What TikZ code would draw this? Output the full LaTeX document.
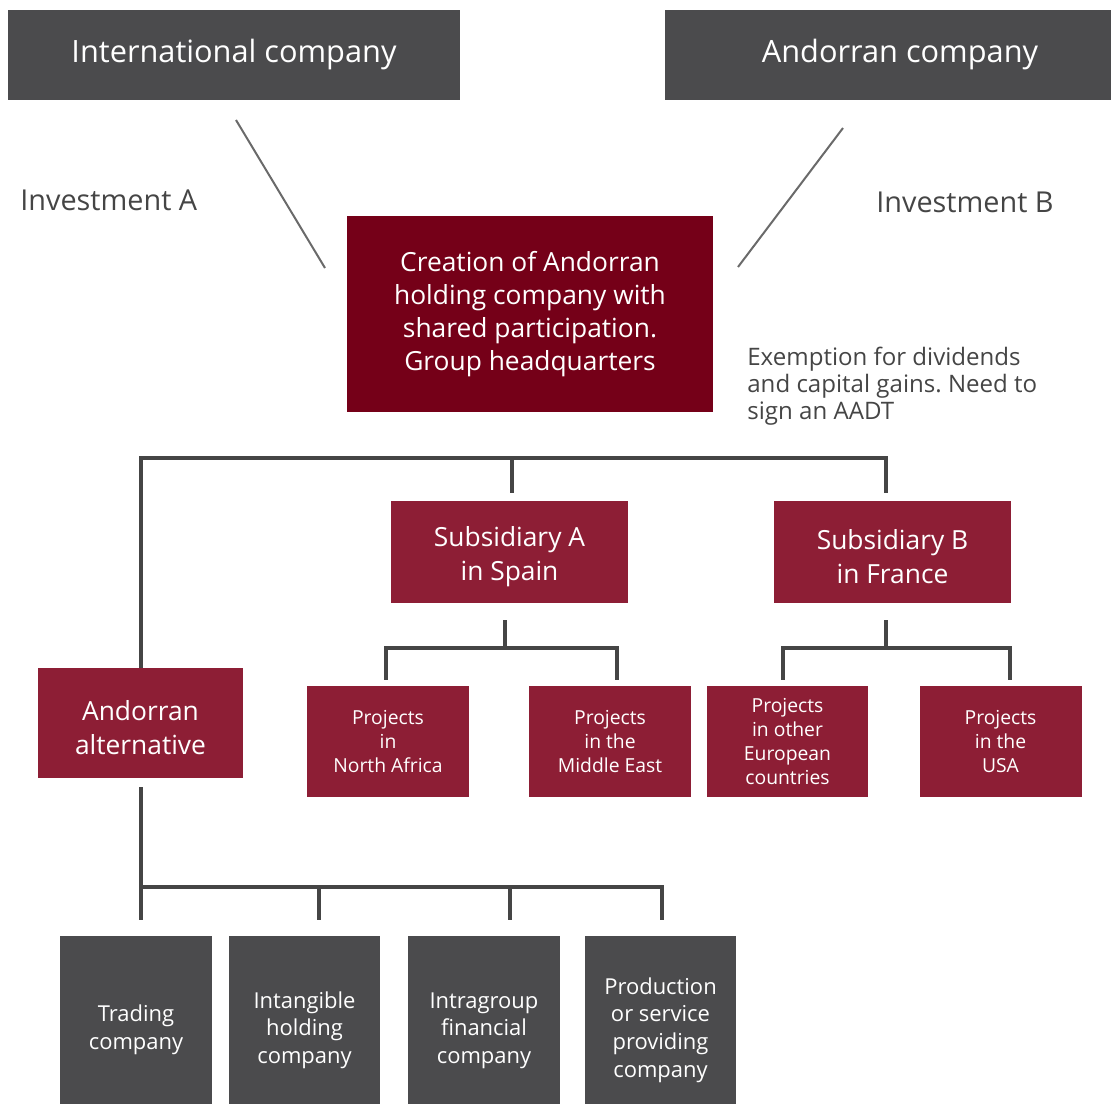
\documentclass[tikz,border=0pt]{standalone}
\usepackage{fontspec}
\setmainfont{Open Sans}
\frenchspacing
\usetikzlibrary{calc}

\definecolor{slate}{HTML}{4B4B4D}
\definecolor{oxblood}{HTML}{750018}
\definecolor{claret}{HTML}{8D1E35}
\definecolor{ink}{HTML}{454545}
\definecolor{faint}{HTML}{6A6A6A}

\newcommand{\lowbranch}{\rule{0pt}{16.5pt}}
\newcommand{\lowkind}{\rule{0pt}{20.8pt}}

\begin{document}
\begin{tikzpicture}[
		x = 0.02cm,
		y = -0.02cm,
		box/.style = {
			rectangle,
			inner sep = 0pt,
			align = center,
			text = white
		},
		parent/.style = {box, fill = slate, minimum height = 1.8cm, font = \fontsize{17.5}{21}\selectfont},
		head/.style = {box, fill = oxblood, minimum width = 7.32cm, minimum height = 3.92cm, font = \fontsize{15}{18.7}\selectfont},
		branch/.style = {box, fill = claret, minimum width = 4.74cm, minimum height = 2.04cm, font = \fontsize{15}{19.3}\selectfont},
		project/.style = {box, fill = claret, minimum width = 3.24cm, minimum height = 2.22cm, font = \fontsize{11}{13.6}\selectfont},
		kind/.style = {box, fill = slate, minimum width = 3.04cm, minimum height = 3.36cm, font = \fontsize{12.5}{15.7}\selectfont},
		note/.style = {inner sep = 0pt, text = ink, font = \fontsize{16.4}{20}\selectfont},
		wire/.style = {draw = ink, line width = 0.08cm},
		ray/.style = {draw = faint, line width = 0.04cm}
	]
	\useasboundingbox (0,0) rectangle (1111,1104);

	\node[parent, minimum width = 9.04cm] (intl)    at (234,55) {International company};
	\node[parent, minimum width = 9.4cm]  (andorra) at (900,55) {Andorran company};
	\node[head] (holding) at (530,314) {Creation of Andorran\\holding company with\\shared participation.\\Group headquarters};

	\node[note, anchor = base west] (invA) at (20,211) {Investment A};
	\node[note, anchor = base west] (invB) at (876,213) {Investment B};
	\node[note, anchor = north west, align = left, font = \fontsize{13.7}{15.3}\selectfont] (exempt) at (747,347)
		{Exemption for dividends\\and capital gains. Need to\\sign an AADT};

	\coordinate (tailA) at (236,120);
	\coordinate (tipA)  at (325,268);
	\coordinate (tailB) at (843,128);
	\coordinate (tipB)  at (738,267);
	\draw[ray] (tailA) -- (tipA);
	\draw[ray] (tailB) -- (tipB);

	\node[branch] (subA) at (509.5,552) {\lowbranch Subsidiary A\\in Spain};
	\node[branch] (subB) at (892.5,552) {\lowbranch Subsidiary B\\in France};
	\node[branch, minimum width = 4.1cm, minimum height = 2.2cm] (alt) at (140.5,723) {\lowbranch Andorran\\alternative};

	\node[project] (africa) at (388,741.5)    {Projects\\in\\North Africa};
	\node[project] (east)   at (610,741.5)    {Projects\\in the\\Middle East};
	\node[project] (europe) at (787.5,741.5)  {Projects\\in other\\European\\countries};
	\node[project] (usa)    at (1000.5,741.5) {Projects\\in the\\USA};

	\node[kind] (trading)    at (136,1020)   {\lowkind Trading\\company};
	\node[kind] (intangible) at (304.5,1020) {\lowkind Intangible\\holding\\company};
	\node[kind] (intragroup) at (484,1020)   {\lowkind Intragroup\\financial\\company};
	\node[kind] (production) at (660.5,1020) {\lowkind Production\\or service\\providing\\company};

	\coordinate (bus) at (886,458);
	\path ([xshift = 0.05cm]subA.north) coordinate (legA);
	\draw[wire, shorten >= 0.16cm] (alt.north) |- (bus) -- (bus |- subB.north);
	\draw[wire, shorten >= 0.16cm] (legA |- bus) -- (legA);

	\coordinate (forkA) at (505,648);
	\coordinate (forkB) at (886,648);
	\path ([xshift = -0.04cm]africa.north) coordinate (legNA)
		([xshift = 0.14cm]east.north) coordinate (legME)
		([xshift = -0.09cm]europe.north) coordinate (legEU)
		([xshift = 0.19cm]usa.north) coordinate (legUS);
	\draw[wire, shorten <= 0.34cm] (subA.south -| forkA) -- (forkA);
	\draw[wire, shorten <= 0.12cm, shorten >= 0.12cm] (legNA) |- (forkA) -| (legME);
	\draw[wire, shorten <= 0.34cm] (subB.south -| forkB) -- (forkB);
	\draw[wire, shorten <= 0.12cm, shorten >= 0.12cm] (legEU) |- (forkB) -| (legUS);

	\coordinate (rail) at (140,887);
	\path ([xshift = 0.29cm]intangible.north) coordinate (dropI)
		([xshift = 0.52cm]intragroup.north) coordinate (dropF)
		([xshift = 0.03cm]production.north) coordinate (dropP);
	\draw[wire, shorten <= 0.18cm, shorten >= 0.32cm] (alt.south) -- (alt.south |- trading.north);
	\draw[wire, shorten >= 0.32cm] (alt.south |- rail) -| (dropP);
	\draw[wire, shorten >= 0.32cm] (dropI |- rail) -- (dropI);
	\draw[wire, shorten >= 0.32cm] (dropF |- rail) -- (dropF);
\end{tikzpicture}
\end{document}
